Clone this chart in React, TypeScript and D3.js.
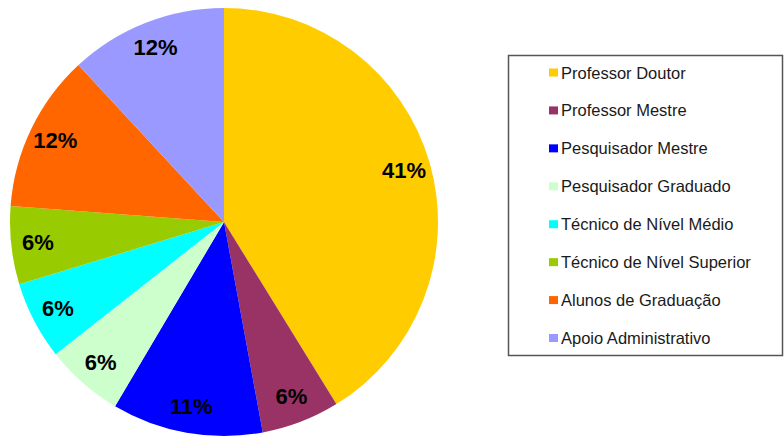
import React from "react";
import * as d3 from "d3";

const categories = [
  "Professor Doutor",
  "Professor Mestre",
  "Pesquisador Mestre",
  "Pesquisador Graduado",
  "Técnico de Nível Médio",
  "Técnico de Nível Superior",
  "Alunos de Graduação",
  "Apoio Administrativo",
];
const values = [41.2, 5.9, 11.4, 5.9, 5.9, 5.9, 11.9, 11.9];
const colors = ["#FFCC00", "#993366", "#0000FF", "#CCFFCC", "#00FFFF", "#99CC00", "#FF6600", "#9999FF"];

const W = 784;
const H = 441;
const cx = 224;
const cy = 222;
const R = 214;

export default function App() {
  const total = d3.sum(values);
  const pie = d3.pie<number>().sort(null).value((d) => d);
  const arcs = pie(values);
  const arc = d3.arc<d3.PieArcDatum<number>>().innerRadius(0).outerRadius(R);
  const labelArc = d3.arc<d3.PieArcDatum<number>>().innerRadius(R * 0.875).outerRadius(R * 0.875);

  const legendY = d3.scalePoint<string>().domain(categories).range([72.5, 338]);

  return (
    <svg
      width={W}
      height={H}
      style={{ position: "absolute", left: 0, top: 0, background: "#fff" }}
      fontFamily="'Liberation Sans', Arial, sans-serif"
    >
      <g transform={`translate(${cx},${cy})`}>
        {arcs.map((a, i) => (
          <path key={i} d={arc(a) || ""} fill={colors[i]} />
        ))}
        {arcs.map((a, i) => {
          const [x, y] = labelArc.centroid(a);
          return (
            <text
              key={"l" + i}
              x={x}
              y={y}
              textAnchor="middle"
              dominantBaseline="central"
              fontSize={22}
              fontWeight="bold"
              fill="#000"
            >
              {Math.round((values[i] / total) * 100)}%
            </text>
          );
        })}
      </g>
      <rect x={508.5} y={55.5} width={274} height={300} fill="#fff" stroke="#555" strokeWidth={1.5} />
      {categories.map((c, i) => {
        const y = legendY(c) as number;
        return (
          <g key={"g" + i}>
            <rect x={549} y={y - 4} width={9} height={8} fill={colors[i]} />
            <text x={561} y={y} dominantBaseline="central" fontSize={16.5} fill="#1a1a1a">
              {c}
            </text>
          </g>
        );
      })}
    </svg>
  );
}
